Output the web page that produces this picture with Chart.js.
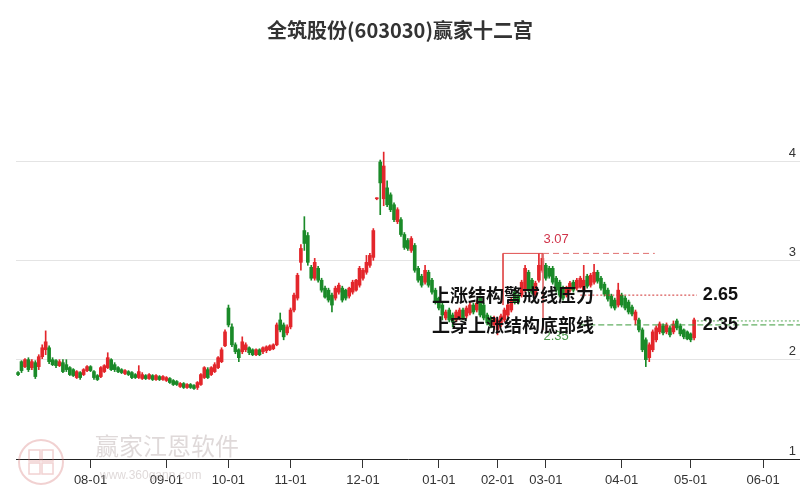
<!DOCTYPE html>
<html>
<head>
<meta charset="utf-8">
<script src="https://cdn.jsdelivr.net/npm/chart.js@4/dist/chart.umd.min.js"></script>
<style>
  html, body { margin: 0; padding: 0; background: #fff; }
</style>
</head>
<body>
<canvas id="kchart" width="800" height="500"></canvas>
<script>
// daily candles, one per trading day (index = day number)
const openVals = [
  1.87,1.98,1.93,2.00,1.92,1.97,1.93,2.03,2.10,2.12, 2.00,1.99,1.94,1.97,1.95,1.92,1.90,1.82,1.87,1.85,
  1.89,1.93,1.88,1.84,1.83,1.88,1.92,2.00,1.95,1.92, 1.90,1.86,1.88,1.87,1.85,1.82,1.81,1.84,1.81,1.84,
  1.80,1.83,1.80,1.79,1.81,1.79,1.78,1.73,1.76,1.72, 1.75,1.74,1.72,1.75,1.82,1.90,1.85,1.88,1.92,1.98,
  2.14,2.52,2.33,2.15,2.10,2.08,2.10,2.12,2.10,2.05, 2.10,2.08,2.09,2.10,2.11,2.15,2.40,2.35,2.27,2.33,
  2.50,2.62,2.98,3.30,3.25,2.93,2.82,2.92,2.80,2.72, 2.70,2.65,2.62,2.68,2.72,2.70,2.64,2.68,2.70,2.75,
  2.82,2.88,2.95,3.03,3.62,3.99,3.62,3.73,3.66,3.56, 3.39,3.41,3.26,3.20,3.10,3.15,2.92,2.84,2.78,2.88,
  2.80,2.70,2.62,2.55,2.42,2.50,2.45,2.40,2.42,2.50, 2.44,2.47,2.55,2.50,2.62,2.55,2.45,2.42,2.35,2.30,
  2.35,2.40,2.45,2.50,2.68,2.64,2.65,2.70,2.88,2.80, 2.65,2.80,2.90,2.95,2.92,2.92,2.82,2.78,2.72,2.65,
  2.70,2.78,2.72,2.73,2.70,2.84,2.75,2.78,2.88,2.82, 2.76,2.70,2.64,2.60,2.55,2.65,2.62,2.58,2.53,2.40,
  2.40,2.30,2.20,2.02,2.10,2.20,2.28,2.34,2.28,2.32, 2.28,2.39,2.34,2.30,2.28,2.26,2.22
];
const closeVals = [
  1.85,1.89,2.00,1.90,1.98,1.83,2.03,2.12,2.18,1.98, 1.95,1.94,1.98,1.88,1.90,1.85,1.84,1.88,1.82,1.90,
  1.93,1.89,1.82,1.80,1.92,1.94,2.02,1.90,1.90,1.88, 1.87,1.89,1.85,1.82,1.82,1.88,1.85,1.81,1.85,1.80,
  1.84,1.80,1.83,1.82,1.77,1.75,1.75,1.76,1.72,1.75, 1.72,1.71,1.77,1.85,1.92,1.82,1.92,1.95,2.02,2.10,
  2.28,2.35,2.15,2.08,2.02,2.18,2.15,2.07,2.05,2.10, 2.05,2.12,2.13,2.14,2.15,2.35,2.30,2.23,2.33,2.50,
  2.65,2.85,3.12,3.17,2.98,2.82,2.98,2.80,2.70,2.63, 2.60,2.55,2.72,2.75,2.60,2.62,2.72,2.78,2.80,2.92,
  2.90,2.98,3.05,3.30,3.62,3.78,3.95,3.56,3.51,3.41, 3.51,3.26,3.13,3.12,3.22,2.90,2.80,2.75,2.90,2.75,
  2.68,2.58,2.52,2.45,2.48,2.40,2.38,2.48,2.50,2.42, 2.52,2.55,2.48,2.57,2.45,2.42,2.37,2.34,2.42,2.40,
  2.44,2.50,2.55,2.60,2.58,2.58,2.78,2.92,2.70,2.68, 2.77,2.95,3.02,2.82,2.84,2.78,2.70,2.65,2.62,2.72,
  2.77,2.70,2.80,2.82,2.80,2.74,2.85,2.88,2.79,2.72, 2.66,2.61,2.54,2.52,2.70,2.55,2.52,2.48,2.46,2.48,
  2.30,2.10,2.00,2.15,2.28,2.32,2.36,2.27,2.35,2.25, 2.36,2.32,2.26,2.23,2.21,2.20,2.40
];
const highVals = [
  1.88,1.99,2.01,2.02,2.00,1.99,2.05,2.15,2.29,2.14, 2.02,2.00,2.00,2.00,2.00,1.93,1.91,1.89,1.88,1.91,
  1.94,1.94,1.89,1.85,1.93,1.95,2.07,2.01,1.97,1.93, 1.91,1.90,1.89,1.88,1.86,1.94,1.87,1.85,1.86,1.85,
  1.85,1.84,1.84,1.83,1.82,1.80,1.79,1.77,1.77,1.76, 1.76,1.75,1.78,1.86,1.93,1.92,1.93,1.97,2.03,2.12,
  2.30,2.55,2.36,2.17,2.11,2.23,2.17,2.13,2.11,2.11, 2.11,2.13,2.14,2.15,2.16,2.37,2.47,2.37,2.35,2.52,
  2.67,2.87,3.16,3.44,3.28,2.95,3.02,2.94,2.82,2.74, 2.72,2.67,2.74,2.77,2.74,2.71,2.73,2.80,2.81,2.94,
  2.92,3.05,3.07,3.32,3.63,4.01,4.09,3.80,3.68,3.58, 3.53,3.43,3.28,3.22,3.24,3.17,2.94,2.86,2.95,2.90,
  2.82,2.72,2.63,2.57,2.50,2.52,2.47,2.50,2.52,2.52, 2.54,2.58,2.57,2.60,2.64,2.57,2.47,2.44,2.44,2.42,
  2.46,2.52,2.57,2.62,2.70,2.66,2.80,2.95,2.90,2.82, 2.79,3.07,3.07,2.97,2.94,2.94,2.84,2.80,2.74,2.74,
  2.79,2.80,2.82,2.84,2.95,2.86,2.87,2.96,2.90,2.84, 2.78,2.72,2.66,2.62,2.77,2.67,2.64,2.60,2.55,2.50,
  2.42,2.32,2.22,2.17,2.30,2.34,2.38,2.36,2.37,2.34, 2.39,2.41,2.36,2.31,2.29,2.27,2.42
];
const lowVals = [
  1.84,1.87,1.92,1.88,1.90,1.81,1.90,2.01,2.05,1.96, 1.94,1.92,1.93,1.87,1.88,1.84,1.83,1.81,1.80,1.84,
  1.88,1.88,1.80,1.79,1.82,1.87,1.91,1.89,1.88,1.87, 1.86,1.85,1.84,1.81,1.81,1.81,1.80,1.80,1.80,1.79,
  1.79,1.79,1.79,1.78,1.76,1.74,1.74,1.72,1.71,1.71, 1.71,1.70,1.70,1.74,1.81,1.81,1.84,1.87,1.91,1.97,
  2.13,2.33,2.13,2.06,1.98,2.06,2.08,2.05,2.04,2.04, 2.04,2.06,2.07,2.09,2.10,2.14,2.28,2.20,2.25,2.31,
  2.48,2.60,2.90,3.10,2.95,2.80,2.80,2.78,2.68,2.62, 2.58,2.48,2.60,2.66,2.58,2.60,2.62,2.66,2.69,2.73,
  2.80,2.86,2.93,3.00,3.61,3.46,3.55,3.54,3.49,3.39, 3.37,3.24,3.11,3.10,3.08,2.88,2.78,2.73,2.76,2.73,
  2.66,2.56,2.50,2.40,2.40,2.38,2.33,2.38,2.40,2.40, 2.42,2.45,2.46,2.48,2.43,2.40,2.35,2.32,2.33,2.25,
  2.33,2.38,2.43,2.48,2.56,2.56,2.63,2.68,2.68,2.66, 2.63,2.78,2.88,2.80,2.82,2.76,2.68,2.63,2.60,2.63,
  2.68,2.68,2.70,2.72,2.68,2.72,2.73,2.76,2.77,2.70, 2.64,2.59,2.52,2.50,2.53,2.53,2.50,2.46,2.44,2.35,
  2.28,2.08,1.93,1.98,2.08,2.18,2.26,2.25,2.26,2.23, 2.26,2.30,2.24,2.21,2.20,2.18,2.20
];

// month ticks (day index where each month starts) and their labels
const monthTickIdx = [21, 43, 61, 79, 100, 122, 139, 153, 175, 195, 216];
const monthLabels = ["08-01","09-01","10-01","11-01","12-01","01-01","02-01","03-01","04-01","05-01","06-01"];
const yTickVals = [1, 2, 3, 4];

// 赢家十二宫 levels
const highLevel = 3.07;      // 上涨结构 top
const warnLevel = 2.65;      // 上涨结构警戒线压力
const baseLevel = 2.35;      // 上涨结构底部线
const baseLevel2 = 2.39;
const boxLeftIdx = 140.6;
const boxRightIdx = 152.2;
const boxBottom = 2.55;
const boxRightBottom = 2.30;
const highDashEnd = 184.6;
const warnStart = 163;
const lastIdx = 196.8;
const xMin = -0.6;
const xMax = 226.7;

const UP = "#e3262b";
const DOWN = "#1a8a28";
const cjkFont = "'Noto Sans CJK SC', 'Microsoft YaHei', sans-serif";

const bodyData = openVals.map((o, i) => ({ x: i, y: [o, closeVals[i]] }));
const wickData = lowVals.map((l, i) => ({ x: i, y: [l, highVals[i]] }));
const candleColor = (ctx) => {
  const i = ctx.dataIndex;
  return closeVals[i] >= openVals[i] ? UP : DOWN;
};

function hLine(y, x0, x1, color, dash, width) {
  return {
    type: "line",
    data: [{ x: x0, y: y }, { x: x1, y: y }],
    borderColor: color,
    borderWidth: width || 1,
    borderDash: dash || [],
    pointRadius: 0,
    fill: false,
    order: -1
  };
}
function vLine(x, y0, y1, color) {
  return {
    type: "line",
    data: [{ x: x, y: y0 }, { x: x, y: y1 }],
    borderColor: color,
    borderWidth: 1,
    pointRadius: 0,
    fill: false,
    order: -1
  };
}

// title, level labels and watermark
const textPlugin = {
  id: "texts",
  beforeDatasetsDraw(chart) {
    const c = chart.ctx;
    c.save();
    // watermark logo
    c.globalAlpha = 0.35;
    c.strokeStyle = "#d77b7b";
    c.lineWidth = 2;
    c.beginPath();
    c.arc(41, 462, 22, 0, Math.PI * 2);
    c.stroke();
    c.lineWidth = 1.5;
    c.strokeRect(29, 450, 11, 11);
    c.strokeRect(42, 450, 11, 11);
    c.strokeRect(29, 463, 11, 11);
    c.strokeRect(42, 463, 11, 11);
    c.globalAlpha = 0.45;
    c.fillStyle = "#b9aaaa";
    c.font = "24px " + cjkFont;
    c.textAlign = "left";
    c.textBaseline = "middle";
    c.fillText("赢家江恩软件", 95, 446);
    c.font = "12px 'Liberation Sans', Arial, sans-serif";
    c.fillText("www.360gann.com", 100, 476);
    c.restore();
  },
  afterDatasetsDraw(chart) {
    const c = chart.ctx;
    const xs = chart.scales.x;
    const ys = chart.scales.y;
    c.save();
    c.textBaseline = "middle";

    c.fillStyle = "#333";
    c.textAlign = "center";
    c.font = "bold 20px " + cjkFont;
    c.fillText("全筑股份(603030)赢家十二宫", 400, 30);

    c.fillStyle = "#d0344a";
    c.font = "13px 'Liberation Sans', Arial, sans-serif";
    c.fillText(highLevel.toFixed(2), xs.getPixelForValue(156), ys.getPixelForValue(highLevel) - 14);

    c.fillStyle = "#4a9a4a";
    c.fillText(baseLevel.toFixed(2), xs.getPixelForValue(156), ys.getPixelForValue(baseLevel) + 12);

    c.fillStyle = "#111";
    c.textAlign = "left";
    c.font = "bold 18px " + cjkFont;
    c.fillText("上涨结构警戒线压力", xs.getPixelForValue(120), ys.getPixelForValue(warnLevel));
    c.fillText("上穿上涨结构底部线", xs.getPixelForValue(120), ys.getPixelForValue(baseLevel));

    c.font = "bold 18px 'Liberation Sans', Arial, sans-serif";
    c.fillText(warnLevel.toFixed(2), xs.getPixelForValue(lastIdx) + 6, ys.getPixelForValue(warnLevel));
    c.fillText(baseLevel.toFixed(2), xs.getPixelForValue(lastIdx) + 6, ys.getPixelForValue(baseLevel));
    c.restore();
  }
};

new Chart(document.getElementById("kchart"), {
  type: "bar",
  data: {
    datasets: [
      {
        label: "body",
        data: bodyData,
        backgroundColor: candleColor,
        borderWidth: 0,
        barThickness: 3,
        minBarLength: 1,
        grouped: false,
        order: 0
      },
      {
        label: "wick",
        data: wickData,
        backgroundColor: candleColor,
        borderWidth: 0,
        barThickness: 1,
        grouped: false,
        order: 1
      },
      hLine(highLevel, boxLeftIdx, boxRightIdx, "#e05050", []),
      vLine(boxLeftIdx, highLevel, boxBottom, "#e05050"),
      vLine(boxRightIdx, highLevel, boxRightBottom, "#e07070"),
      hLine(highLevel, boxRightIdx, highDashEnd, "#e07070", [6, 4]),
      hLine(warnLevel, warnStart, lastIdx, "#d03030", [2, 2]),
      hLine(baseLevel, warnStart, xMax, "#3a9a3a", [6, 3]),
      hLine(baseLevel2, lastIdx, xMax, "#5aaa5a", [2, 2])
    ]
  },
  options: {
    responsive: false,
    animation: false,
    layout: { padding: { left: 16, right: 0, top: 64, bottom: 0 } },
    plugins: {
      legend: { display: false },
      tooltip: { enabled: false },
      title: { display: false }
    },
    scales: {
      x: {
        type: "linear",
        min: xMin,
        max: xMax,
        offset: false,
        afterFit: (scale) => { scale.height = 41; },
        afterBuildTicks: (scale) => {
          scale.ticks = monthTickIdx.map((v) => ({ value: v }));
        },
        grid: {
          offset: false,
          drawOnChartArea: false,
          drawTicks: true,
          tickLength: 9,
          tickColor: "#333"
        },
        border: { display: true, color: "#222", width: 1 },
        ticks: {
          autoSkip: false,
          maxRotation: 0,
          padding: 5,
          color: "#333",
          font: { family: "'Liberation Sans Narrow', 'Liberation Sans', Arial", size: 13 },
          callback: (v) => monthLabels[monthTickIdx.indexOf(v)]
        }
      },
      y: {
        type: "linear",
        position: "right",
        min: 1,
        max: 4.977,
        afterFit: (scale) => { scale.width = 0; },
        afterBuildTicks: (scale) => {
          scale.ticks = yTickVals.map((v) => ({ value: v }));
        },
        grid: { color: "#e4e4e4", drawTicks: false },
        border: { display: false },
        ticks: {
          mirror: true,
          padding: -4,
          labelOffset: -8,
          color: "#333",
          font: { family: "'Liberation Sans', Arial", size: 13 }
        }
      }
    }
  },
  plugins: [textPlugin]
});
</script>
</body>
</html>
